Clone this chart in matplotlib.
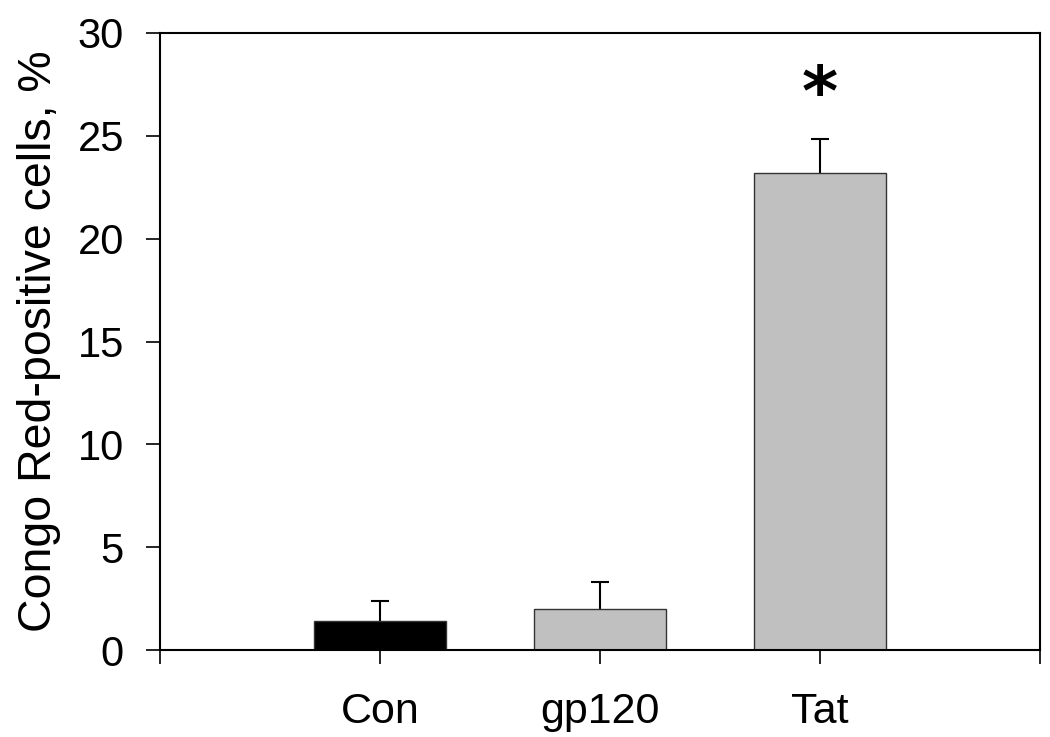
import numpy as np
import matplotlib
matplotlib.use("Agg")
import matplotlib.pyplot as plt

plt.rcParams["font.family"] = ["Liberation Sans", "DejaVu Sans"]

# данные
groups = ["Con", "gp120", "Tat"]
values = [1.4, 2.0, 23.2]
errors = [1.0, 1.3, 1.65]
colors = ["#000000", "#c0c0c0", "#c0c0c0"]
signif = ["", "", "*"]

fig = plt.figure(figsize=(10.5, 7.37), dpi=100)
ax = fig.add_axes([160 / 1050, 1 - 650 / 737, 880 / 1050, 617 / 737])

x = np.arange(1, len(groups) + 1)
tops = np.array(values) + np.array(errors)

ax.bar(x, values, width=0.6, color=colors, edgecolor="#333333", linewidth=1.0, zorder=2)
# только верхние усы
ax.vlines(x, values, tops, color="black", linewidth=1.5, zorder=1)
ax.plot(x, tops, ls="none", marker="_", markersize=13, markeredgewidth=1.5,
        color="black", zorder=3)

for xi, t, s in zip(x, tops, signif):
    if s:
        ax.text(xi, t + 2.1, s, ha="center", va="center", fontsize=50,
                fontweight="bold", family="DejaVu Sans")

ax.set_xlim(0, 4)
ax.set_ylim(0, 30)
ax.set_xticks([0, 1, 2, 3, 4])
ax.set_xticklabels([""] + groups + [""])
ax.set_yticks([0, 5, 10, 15, 20, 25, 30])
ax.tick_params(axis="both", direction="out", length=10, width=1.2, labelsize=30)
ax.tick_params(axis="y", pad=16)
ax.tick_params(axis="x", pad=20, labelsize=31)
ax.set_ylabel("Congo Red-positive cells, %", fontsize=33.5, labelpad=12)

for side in ["left", "bottom", "top", "right"]:
    ax.spines[side].set_linewidth(1.5)

fig.savefig("out.png", dpi=100)
